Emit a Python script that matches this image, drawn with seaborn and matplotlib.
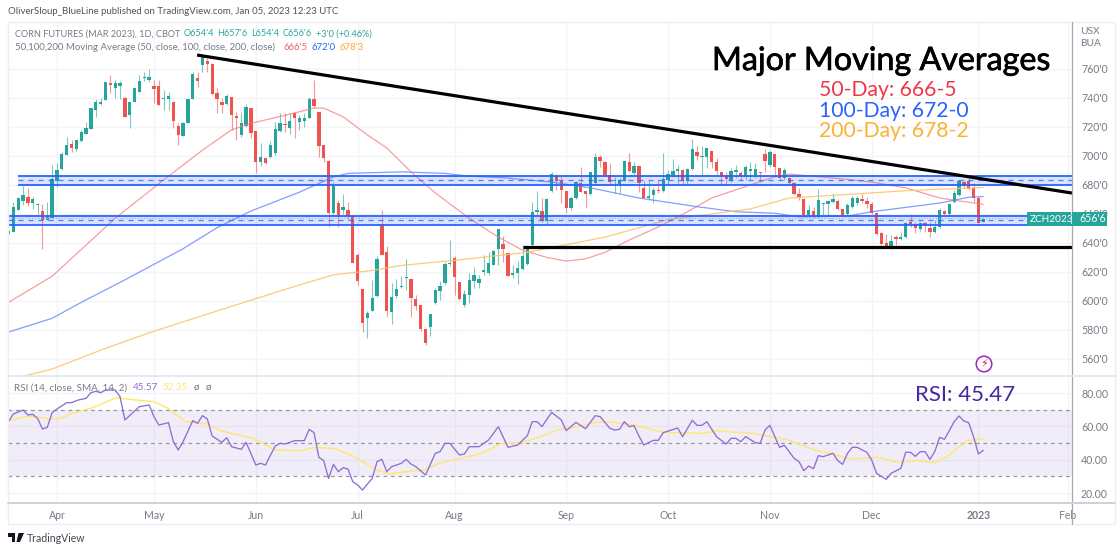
import numpy as np
import pandas as pd
import matplotlib.pyplot as plt
import matplotlib.patheffects as pe
from matplotlib.lines import Line2D
from matplotlib.patches import Rectangle, FancyBboxPatch, Polygon
import seaborn as sns

# daily candles
opens = [646,647.5,663,669,671.5,667.5,666,662,656,657,
682.5,691,700.5,708,705,710,715,718.5,732,736,
738.5,750,747,748,740,728,737,744,753.5,752.5,
748,748,739.5,739.5,737,720.5,714,722.5,739,754,
762.5,765.5,763.5,743.5,737,736,740.5,727.5,714.5,720.5,
733,717,696,698.5,699.5,702,717,722,719,729.5,
723.5,724,726,739.5,730.5,707.5,696.5,660.5,667.5,662.5,
662.5,658.5,631.5,608,588,593,603.5,652.5,633.5,592.5,
603.5,609.5,616,615,601.5,597,580.5,582,598.5,607,
612.5,625.5,629.5,613,597,604,613.5,612.5,620,619,
624.5,636,639,633,618,619,622,625.5,638.5,661,
662,655,675.5,686,682.5,675.5,664,671,681.5,675.5,
673.5,681.5,699.5,696,687,682.5,680.5,682.5,696,688,
693,678,671,673,676.5,676,683.5,686,689.5,690.5,
682.5,691,702.5,699.5,699.5,703.5,696,689,687,683.5,
689,688,685.5,689.5,687,689,701.5,694,701.5,691.5,
685,685,681.5,674,670.5,659.5,662,658.5,667,667,
668,669,663.5,660,665,667.5,670.5,669,667,660.5,
647,640,637,644,642.5,644,654.5,653,649.5,653.5,
650.5,647.5,651,662,660,668.5,673,682,682.5,678,
671,654.5]
highs = [650,668.5,671.5,679.5,678,671.5,667.5,667,668,694,
695,702.5,713,711,711,718,723.5,733,739.5,740,
751,756,752.5,751.5,740.5,737,747,755.5,758,760,
752.5,752.5,745.5,744,737,722.5,723.5,739,758,758,
768.3,767.5,764,747,740,742.5,741,730,730,736,
733,717,709,698.5,710,723.5,729.5,729.5,729.5,730.5,
728,729.5,740.5,752.5,730.5,707.5,697,682,669.5,673.5,
668,658.5,633,608,593,614.5,631,662.5,638,612.5,
615,617,629,615,604,597,580.5,591,609,613.5,
627,642,631,613,607.5,619,623.5,618,631.5,633.5,
635,649.5,644.5,633,625,627.5,638.5,638.5,668,675.5,
671,671,689,687.5,687,675.5,672.5,682.5,692.5,675.5,
689,702,700.5,696.5,695,685.5,685,697,702,696,
693,682.5,682.5,678.5,683.5,702,690,698,693.5,691,
691.5,711.5,707,707,706,703.5,698.5,689,689,691.5,
693.5,689.5,694,696,695,689,705,704,701.5,691.5,
691.5,685.5,682,678,671,666,665,677,667.5,669.5,
674.5,670.5,663.5,667.5,672.5,672.5,674,671.5,668,661,
647.5,646,645.5,645.5,647.5,654.5,660,654.5,654.5,654.5,
654.5,656,664,662.5,667.5,676.5,683.5,683.5,684.5,681.5,
671.5,657.75]
lows = [645.5,647.5,663,666,665.5,663.5,660,636,656,657,
678.5,690.5,700.5,702.5,703.5,709.5,715,718.5,727,735,
738.5,743.5,740,739,727,719,737,744,752,751,
736.5,735,731.5,731.5,719,707.5,714,722.5,739,747.5,
757.8,758,743,729.5,729.5,735,718,711,713,720,
712.5,688,693,694.5,698.5,700.5,716.5,716.5,715,712.5,
718,720,726,733,699.5,696,651,658.5,651,660,
655.5,626,611,578.5,574.5,593,603,631.5,589,584,
602,609,607.5,589,593.5,579,569.5,576,598,600.5,
611,624,604,600.5,596,598.5,609,609,618,618,
624.5,624.5,627,617,615.5,612,621,624.5,638,659,
654.5,653,675,676.5,667.5,660.5,662.5,670.5,675,664,
673,680,692.5,687,680,674.5,674.5,682.5,689,687,
675,671,669.5,667.5,674.5,675,680,685.5,681.5,680,
680,690.5,697,687,691.5,691.5,687.5,680,680,682,
684.5,683.5,683.5,683.5,685,682,689,692.5,687,683.5,
683.5,680.5,673,669.5,659,658,657,657,659.5,658.5,
667.5,662.5,658.5,658.5,664,666,667.5,664,660,645.5,
638.5,636.5,636,638.5,642,643.5,651,647,648,647.5,
644,647,650,659.5,659.5,667.5,672.5,678,676.5,668,
653.5,654.5]
closes = [648,665,671,673,667.5,670.5,667,656,658,684,
690.5,701.5,707.5,705.5,711,716.5,719,733,737,737,
751,749,750,750,727,737,747,752,754,754.5,
746,735,740,741.5,724,714.5,722.5,739,756.5,752,
768,763.5,743,739.5,735,741.5,728,726,722.5,733.5,
716,696,699.5,695,707.5,718.5,722.5,721.5,724,726,
726,726,739,734.5,707,698.5,660.5,679.5,658,664.5,
658.5,626,613.5,584.5,591.5,602,629,631.5,593,603,
608,610.5,616.5,602,596.5,580.5,571,591,607.5,610.5,
625.5,626,616.5,601.5,604.5,614.5,618,615,621.5,626,
634.5,649.5,635.5,617,619,622.5,631,636.5,661.5,662.5,
655,670.5,687.5,682.5,676.5,664,671,682,675,673.5,
689,699.5,696.5,687,682,683.5,683.5,696.5,689.5,693,
681.5,671,672.5,676.5,676,684,687.5,689.5,691,682.5,
691,704.5,700,700,705.5,696,689.5,686,684,689.5,
690.5,686,692.5,691,691,688,696.5,702.5,692.5,685,
690.5,681.5,674,671,659.5,662.5,658.5,669.5,667.5,669,
670.5,663.5,659.5,666,671,671,669,667,660.5,646,
639.5,637,641.5,642.5,644,653.5,653,650.5,653.5,651.5,
647.5,651,662.5,660,667,674.5,682.5,679.5,677.5,671,
654,656.75]

# moving averages, points (bar number, price)
ma50_bars = [0,9,22,32,40,46,50,57,63,65,69,74,78,83,88,95,101,106,111,115,119,123,128,134,140,145,153,158,161,171,178,185,192,196,201]
ma50_vals = [599,617,657,683.5,704,718,722.5,728,733,733,727,714.5,705.5,689,674.5,657,644,635,630,627.5,629,633.5,642,651,661.5,671,680,685.5,687.5,684.5,682,678,671,669,666.6]
ma100_bars = [0,9,15,24,36,43,50,60,67,70,81,90,95,102,112,120,130,142,150,158,163,173,178,185,192,198,201]
ma100_vals = [578.5,588,599,614.5,636,650.5,662,675,685.5,688,689,688,686,685,682,678,671,665,661.5,660.5,658,658.5,661.5,664.5,667.5,671.5,672]
ma200_bars = [0,9,19,29,42,50,60,67,75,81,92,107,123,136,153,161,171,185,201]
ma200_vals = [545.5,553,566,578,592,600.5,611,618,621,624.5,628,633.5,644,656,663.5,671,673,676,678.3]

# RSI line and its moving average
rsi_bars = [0,1,3,4,5,6,7,8,9,10,12,13,14.4,16,17,18,19,20,22,23,24,27,29,30,31,33,34,35,36,38,39,40,41,42,44,45,46,48,49,51,52,53,55,56,57,59,61,62,63,64,65,66,67,68,69,70,71,72,73,75,76,77,78,79,81,82,83,84,86,88,89,90,91,93,94,95,97,99,101,103,105,107,108,109,110,112,114,
115,117,119,121,122,124,125,126,127,128,129,130,131,133,134,135,138,139,141,142,143,144,146,148,149,150,151,152,154,155,156,157,159,160,162,163,164,165,166,167,168,170,171,172,173,174,175,177,178,179,181,182,184,185,186,187,188,189,190,191,192,193,194,195,196,197,198,199,200,201]
rsi_vals = [62.8,67.4,69.8,66.8,67.2,64.8,58.4,59.4,68.2,70.4,74.2,74.2,75.8,76.8,80.2,81,80.2,81.8,81.8,77.8,63.8,71.8,72.8,65.8,60.8,62.2,50.8,45.8,50.8,63.4,61.8,66.4,64.4,54.2,50.4,53.2,47.8,46.2,50.4,36.8,37.8,36.8,48.2,49.8,49.4,51.4,51.4,58.2,56.2,41.4,39.4,28.8,37.2,32.8,35.2,34.4,26.8,24.8,21.8,28.8,38.8,40.2,32.8,35.8,37.8,40.2,37.4,35.8,30.8,43.8,44.8,49.8,49.8,42.8,43.4,47.8,47.8,51.8,59.8,47.4,48.8,54.4,62.8,62.8,59.8,68.4,63.8,
57.4,62.4,58.6,66.4,65.8,58.8,57.8,58.2,62.8,59.8,60.4,54.2,48.8,51.6,51.6,56.2,59,53.8,63.6,60.6,60.6,62.8,53.8,49.4,52.8,52.8,50.8,53.8,50.2,49.8,57.8,60.6,47.4,48.6,40.8,38.8,33.4,36.2,34.6,42.4,41.8,43.8,39.4,37.2,43.8,47.4,47.4,44.4,39.8,31.8,28.2,31.8,34.8,44.4,44.4,42,44.8,44.8,40.2,44.8,53.4,52.2,57.4,62.8,66.2,63.2,62.2,53.8,43.4,45.57]
rsi_ma_bars = [0,3.4,6,8.6,10.8,13,17.4,22.2,26.2,30,32.9,36.5,41,44,48.3,50.5,55,60,63.4,67.5,72,75.6,78.5,82,85.9,88.8,93.2,97.7,101.3,105.7,108.7,113.7,117.4,121,123.6,129,135,142.8,146,153.5,160.8,166.7,169.7,173.3,179.2,183.7,187.3,191,193.6,197.6,201]
rsi_ma_vals = [63.2,65.8,65.8,64.4,64.8,67.8,71.2,77.2,75.8,74.8,70.8,62.8,61.4,57.2,54.2,52.8,45.8,45.4,47.4,46.6,40.8,34.2,31.4,32.8,33.8,37.8,40.8,43.8,49.4,50.2,52.8,58.2,59.8,62.4,62.8,60.8,56.4,55.8,57.2,55.8,51.8,45.4,43.8,40.4,41.4,38.2,39.4,38.2,41.8,51.4,52.35]

# axis labels
price_ticks = [560,580,600,620,640,660,680,700,720,740,760]
rsi_ticks = [20,40,60,80]
month_bars = [10,30,51,72,92,115,136,157,178,200,218.5]
month_labels = ['Apr','May','Jun','Jul','Aug','Sep','Oct','Nov','Dec','2023','Feb']

up = '#26a69a'
down = '#ef5350'
grey = '#787b86'
grid = '#f3f4f9'
blue = '#2962ff'

sns.set_theme(style='white')
plt.rcParams['font.family'] = ['Lato', 'DejaVu Sans']

W, H = 1120, 552
fig = plt.figure(figsize=(W / 100, H / 100), dpi=100)

def fx(x):
    return x / W

def fy(y):
    return 1 - y / H

ax = fig.add_axes([fx(8), fy(376), fx(1064), (376 - 22) / H])
ax_rsi = fig.add_axes([fx(8), fy(503), fx(1064), (503 - 376) / H])
xlim = (-0.1, 219.3)

df = pd.DataFrame({'open': opens, 'high': highs, 'low': lows, 'close': closes})
df['bar'] = np.arange(len(df))
df['color'] = np.where(df['close'] >= df['open'], up, down)

# candles
ax.vlines(df['bar'], df['low'], df['high'], color=df['color'], lw=0.8, alpha=0.6, zorder=2)
ax.bar(df['bar'], (df['close'] - df['open']).abs().clip(lower=0.7), bottom=df[['open', 'close']].min(axis=1),
       width=0.68, color=df['color'], linewidth=0, zorder=3)

# moving averages
sns.lineplot(x=ma50_bars, y=ma50_vals, ax=ax, color='#f77c80', lw=0.9, alpha=0.75, zorder=4)
sns.lineplot(x=ma100_bars, y=ma100_vals, ax=ax, color='#5b7cff', lw=0.9, alpha=0.75, zorder=4)
sns.lineplot(x=ma200_bars, y=ma200_vals, ax=ax, color='#ffc36b', lw=0.9, alpha=0.9, zorder=4)

# support / resistance bands
ax.fill_between([2, xlim[1]], 680.3, 686, color=blue, alpha=0.17, lw=0, zorder=5)
ax.fill_between([xlim[0], xlim[1]], 652.4, 658.8, color=blue, alpha=0.17, lw=0, zorder=5)
for lev in (680.3, 686):
    ax.hlines(lev, 2, xlim[1], color=blue, lw=1.3, zorder=5)
for lev in (652.4, 658.8):
    ax.hlines(lev, xlim[0], xlim[1], color=blue, lw=1.3, zorder=5)
ax.hlines(683.4, 2, xlim[1], color=blue, lw=0.9, ls=(0, (4, 4)), alpha=0.8, zorder=5)
ax.hlines(655.5, xlim[0], xlim[1], color=blue, lw=0.9, ls=(0, (4, 4)), alpha=0.8, zorder=5)
ax.hlines(657.5, xlim[0], xlim[1], color='#8fa8ff', lw=0.8, ls=':', zorder=5)

# trend lines
ax.plot([38.9, 219.3], [769.6, 674.4], color='black', lw=2.3, zorder=6, solid_capstyle='butt')
ax.hlines(637.2, 106, 219.3, color='black', lw=2.3, zorder=6)

ax.set_xlim(xlim)
ax.set_ylim(548.2, 792.4)
ax.set_yticks(price_ticks)
ax.set_yticklabels([f"{p}'0" for p in price_ticks])
ax.set_xticks(month_bars)
ax.tick_params(axis='x', labelbottom=False, length=0)
ax.yaxis.tick_right()
ax.tick_params(axis='y', length=0, pad=6.5, labelsize=7.6, labelcolor=grey)
ax.grid(True, color=grid, lw=1)
ax.set_axisbelow(True)
sns.despine(ax=ax, left=True, top=True, bottom=True, right=True)

# RSI pane
ax_rsi.axhspan(30, 70, color='#7e57c2', alpha=0.1, lw=0)
for lev in (30, 50, 70):
    ax_rsi.axhline(lev, color='#9598a1', lw=0.9, ls=(0, (3, 3)))
sns.lineplot(x=rsi_ma_bars, y=rsi_ma_vals, ax=ax_rsi, color='#ffe66d', lw=1, zorder=3)
sns.lineplot(x=rsi_bars, y=rsi_vals, ax=ax_rsi, color='#8c6fd1', lw=0.95, zorder=4)
ax_rsi.set_xlim(xlim)
ax_rsi.set_ylim(14, 90.2)
ax_rsi.set_yticks(rsi_ticks)
ax_rsi.set_yticklabels([f'{t:.2f}' for t in rsi_ticks])
ax_rsi.yaxis.tick_right()
ax_rsi.tick_params(axis='y', length=0, pad=6.5, labelsize=7.6, labelcolor=grey)
ax_rsi.set_xticks(month_bars)
ax_rsi.set_xticklabels(month_labels)
ax_rsi.tick_params(axis='x', length=0, pad=5, labelsize=7.6, labelcolor=grey)
ax_rsi.get_xticklabels()[9].set_fontweight('bold')
ax_rsi.grid(True, color=grid, lw=1)
ax_rsi.set_axisbelow(True)
sns.despine(ax=ax_rsi, left=True, top=True, bottom=True, right=True)

# frame and pane separators
fig.add_artist(Rectangle((fx(8), fy(524)), fx(1107), 502 / H, fill=False, ec='#eceef3', lw=1))
fig.add_artist(Line2D([fx(1072), fx(1072)], [fy(22), fy(524)], color='#a4a7b0', lw=0.9))
fig.add_artist(Line2D([fx(8), fx(1115)], [fy(376), fy(376)], color='#e3e5ec', lw=1.2))
fig.add_artist(Line2D([fx(8), fx(1115)], [fy(503), fy(503)], color='#cfd1d8', lw=1.4))

def label(x, y, s, color=grey, size=6.9, **kw):
    return fig.text(fx(x), fy(y), s, color=color, fontsize=size, va='center', **kw)

label(8, 12, 'OliverSloup_BlueLine published on TradingView.com, Jan 05, 2023 12:23 UTC', color='#50535e')
label(15, 34, 'CORN FUTURES (MAR 2023), 1D, CBOT', size=6.6)
for x, s in zip([184, 217, 251, 283, 316], ["O654'4", "H657'6", "L654'4", "C656'6", "+3'0 (+0.46%)"]):
    label(x, 34, s, color=up, size=6.6)
label(15, 47.5, '50,100,200 Moving Average (50, close, 100, close, 200, close)')
label(284, 47.5, "666'5", color='#f0616d')
label(311, 47.5, "672'0", color=blue)
label(339, 47.5, "678'3", color='#ffa726')
label(1080, 32, 'USX', size=7.4)
label(1080, 44, 'BUA', size=7.4)

label(14, 388, 'RSI (14, close, SMA, 14, 2)', size=7.1)
label(133, 388, '45.57', color='#8c6fd1', size=7.1)
label(162, 388, '52.35', color='#ffe66d', size=7.1)
label(194, 388, 'ø', size=7.1)
label(206, 388, 'ø', size=7.1)

# headline annotations
head = label(712, 61, 'Major Moving Averages', color='black', size=23.2)
head.set_path_effects([pe.withStroke(linewidth=0.5, foreground='black')])
label(819, 90, '50-Day: 666-5', color='#f23645', size=15.2)
label(819, 111, '100-Day: 672-0', color=blue, size=15.2)
label(819, 131, '200-Day: 678-2', color='#f9b233', size=15.2)
label(915, 395, 'RSI: 45.47', color='#4527a0', size=16)

# last price tags
tag_l = FancyBboxPatch((fx(1027), fy(226)), fx(44), 14 / H, boxstyle='square,pad=0', fc=up, ec='none', zorder=10)
tag_r = FancyBboxPatch((fx(1072), fy(226)), fx(35), 14 / H, boxstyle='square,pad=0', fc=up, ec='none', zorder=10)
fig.add_artist(tag_l)
fig.add_artist(tag_r)
label(1030, 219, 'ZCH2023', color='white', size=7.2, zorder=11)
label(1079, 219, "656'6", color='white', size=7.6, zorder=11)

# event marker
fig.text(fx(984), fy(364), '\u26a1', color='#c2185b', fontsize=8, ha='center', va='center', family='DejaVu Sans',
         bbox=dict(boxstyle='circle,pad=0.25', fc='white', ec='#9c27b0', lw=1.1))

# footer logo
fig.add_artist(Polygon([(fx(8), fy(533)), (fx(15), fy(533)), (fx(15), fy(542)), (fx(12), fy(542)),
                        (fx(12), fy(536.5)), (fx(8), fy(536.5))], fc='#131722', ec='none'))
fig.add_artist(Polygon([(fx(18.5), fy(533)), (fx(24), fy(533)), (fx(20), fy(542)), (fx(16.5), fy(542))], fc='#131722', ec='none'))
label(27, 538, 'TradingView', color='#434651', size=7.6)

fig.savefig('out.png', dpi=100)
